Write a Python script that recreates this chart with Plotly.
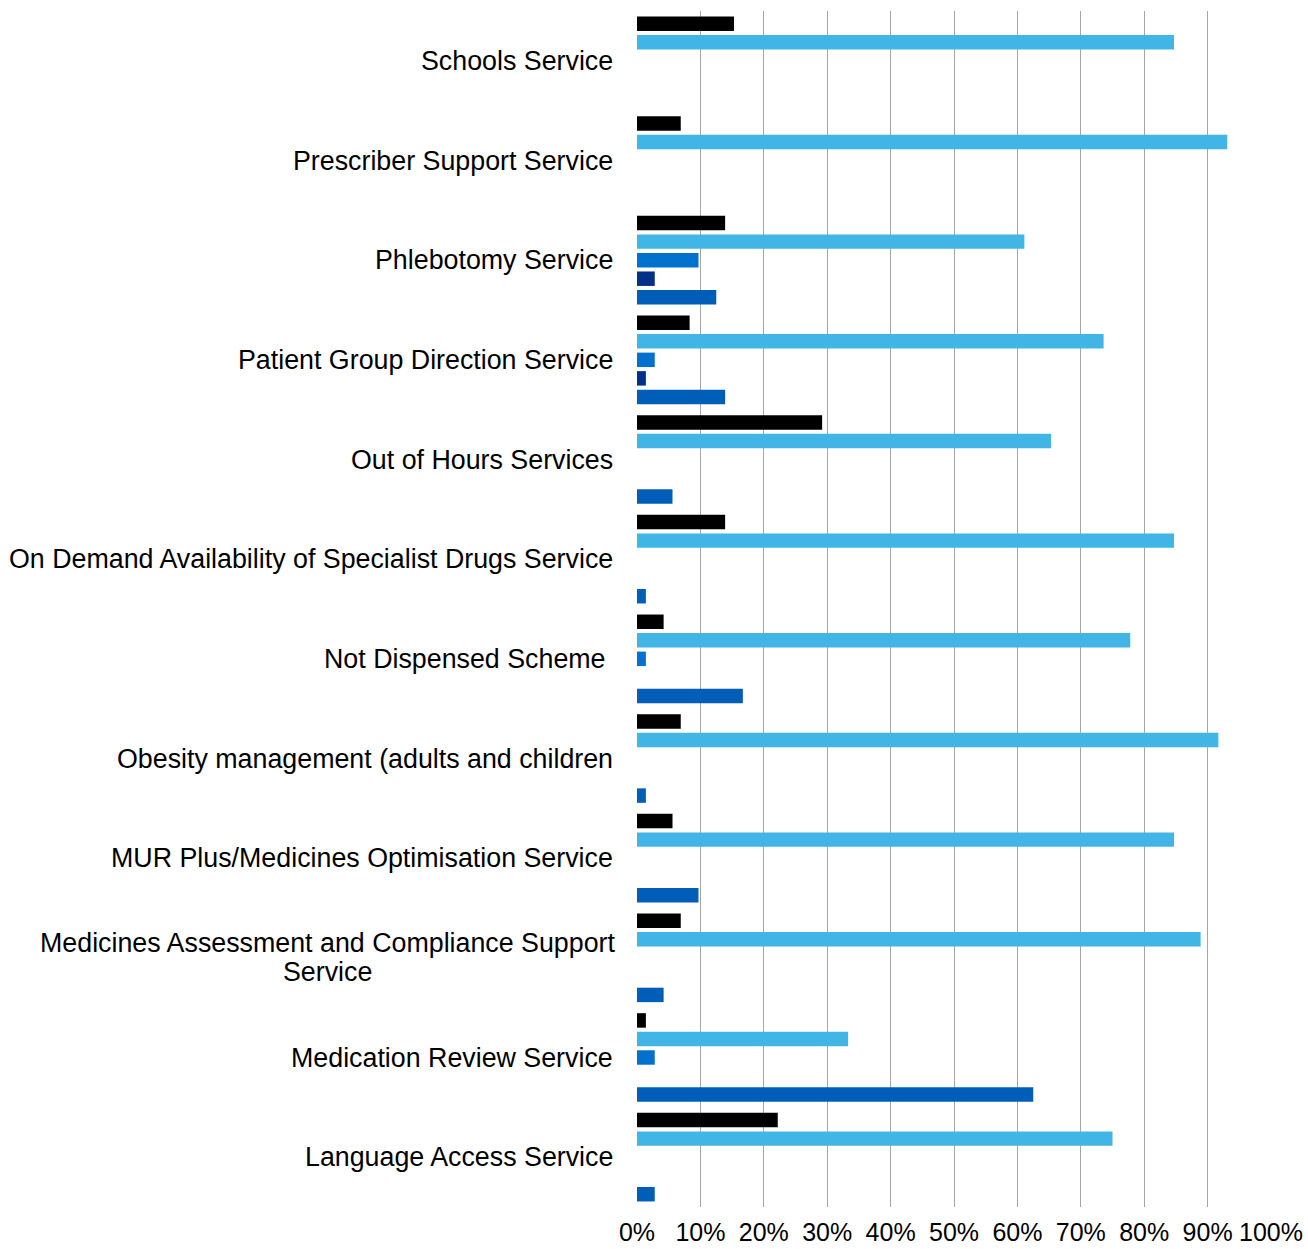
import plotly.graph_objects as go

# Services (top to bottom) and the share of responses per answer, in percent
services = [
    "Schools Service",
    "Prescriber Support Service",
    "Phlebotomy Service",
    "Patient Group Direction Service",
    "Out of Hours Services",
    "On Demand Availability of Specialist Drugs Service",
    "Not Dispensed Scheme ",
    "Obesity management (adults and children",
    "MUR Plus/Medicines Optimisation Service",
    "Medicines Assessment and Compliance Support<br>Service",
    "Medication Review Service",
    "Language Access Service",
]

series_1 = [15.3, 6.9, 13.9, 8.3, 29.2, 13.9, 4.2, 6.9, 5.6, 6.9, 1.4, 22.2]
series_2 = [84.7, 93.1, 61.1, 73.6, 65.3, 84.7, 77.8, 91.7, 84.7, 88.9, 33.3, 75.0]
series_3 = [None, None, 9.7, 2.8, None, None, 1.4, None, None, None, 2.8, None]
series_4 = [None, None, 2.8, 1.4, None, None, None, None, None, None, None, None]
series_5 = [None, None, 12.5, 13.9, 5.6, 1.4, 16.7, 1.4, 9.7, 4.2, 62.5, 2.8]

series_names = ["Series 1", "Series 2", "Series 3", "Series 4", "Series 5"]
series_values = [series_1, series_2, series_3, series_4, series_5]
series_colors = ["#000000", "#41B6E6", "#0072CE", "#003087", "#005EB8"]

FONT = "Arial, 'Liberation Sans', sans-serif"
LABEL_SIZE = 26.8
LINE_STEP = 29

fig = go.Figure()
for name, vals, color in zip(series_names, series_values, series_colors):
    fig.add_trace(go.Bar(
        y=list(range(len(services))),
        x=[None if v is None else v / 100 for v in vals],
        name=name,
        orientation="h",
        marker=dict(color=color, line=dict(width=0)),
    ))

# Category labels as annotations; wrapped labels are centred line by line
for i, label in enumerate(services):
    lines = label.split("<br>")
    n = len(lines)
    for k, line in enumerate(lines):
        fig.add_annotation(
            x=0, xref="paper", y=i, yref="y",
            text=line, showarrow=False,
            xanchor="right" if n == 1 else "center",
            xshift=-22 if n == 1 else -310,
            yanchor="middle",
            yshift=((n - 1) / 2 - k) * LINE_STEP,
            font=dict(family=FONT, size=LABEL_SIZE, color="#000000"),
        )

fig.update_layout(
    width=1308, height=1249,
    margin=dict(l=637, r=37, t=11, b=42, autoexpand=False),
    paper_bgcolor="white", plot_bgcolor="white",
    barmode="group", bargap=0.07, bargroupgap=0.22,
    showlegend=False,
    font=dict(family=FONT, size=25, color="#000000"),
)
fig.update_xaxes(
    range=[0, 1], tick0=0, dtick=0.1, tickformat=".0%",
    showgrid=True, gridcolor="#A6A6A6", gridwidth=1,
    zeroline=False, showline=False, ticks="",
    automargin=False, ticklabeloverflow="allow",
    ticklabelstandoff=8,
    tickfont=dict(family=FONT, size=25, color="#000000"),
)
fig.update_yaxes(
    type="linear", range=[len(services) - 0.5, -0.5],
    showticklabels=False, showgrid=False, zeroline=False, showline=False, ticks="",
    automargin=False,
)

fig.write_html("out.html")
